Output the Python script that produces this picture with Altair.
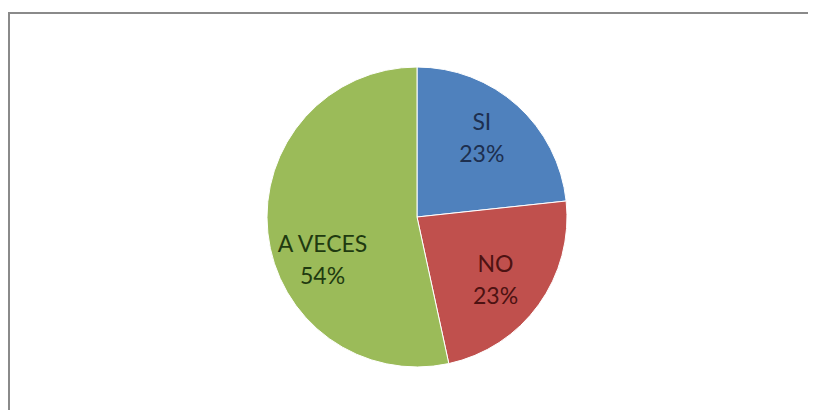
import altair as alt
import pandas as pd

categories = ["SI", "NO", "A VECES"]
values = [23.3, 23.3, 53.4]
pct_labels = ["23%", "23%", "54%"]
slice_colors = ["#4F81BD", "#C0504D", "#9BBB59"]
text_colors = ["#1d2f4f", "#4d1212", "#1f3a10"]

df = pd.DataFrame({
    "cat": categories,
    "val": values,
    "pct": pct_labels,
    "ord": list(range(len(categories))),
})

CX, CY = 409, 205  # pie centre in view coordinates
W, H = 800, 398

pie = alt.Chart(df).mark_arc(outerRadius=150, stroke="white", strokeWidth=1).encode(
    theta=alt.Theta("val:Q", stack=True),
    order=alt.Order("ord:O"),
    color=alt.Color("cat:N", scale=alt.Scale(domain=categories, range=slice_colors), legend=None),
    x=alt.value(CX),
    y=alt.value(CY),
)

text_common = dict(radius=103, font="Lato", fontSize=23, lineHeight=32,
                   align="center", baseline="middle")


def label_layer(cond, **offsets):
    return alt.Chart(df).transform_window(
        cum="sum(val)", sort=[alt.SortField("ord")]
    ).transform_joinaggregate(total="sum(val)").transform_calculate(
        lbl="[datum.cat, datum.pct]",
        mid="(datum.cum - datum.val / 2) / datum.total * 2 * PI",
    ).transform_filter(cond).mark_text(**text_common, **offsets).encode(
        theta=alt.Theta("mid:Q", scale=None),
        text="lbl:N",
        color=alt.Color("cat:N", scale=alt.Scale(domain=categories, range=text_colors), legend=None),
        x=alt.value(CX),
        y=alt.value(CY),
    )


labels_si = label_layer("datum.cat == 'SI'", dx=-4, dy=-17)
labels_no = label_layer("datum.cat == 'NO'", dx=-5, dy=-12)
labels_green = label_layer("datum.cat == 'A VECES'", dx=8, dy=17)

frame_top = alt.Chart(df).mark_rule(color="#8a8a8a", strokeWidth=2).encode(
    x=alt.value(0), x2=alt.value(W + 10), y=alt.value(1)
)
frame_left = alt.Chart(df).mark_rule(color="#8a8a8a", strokeWidth=2).encode(
    x=alt.value(1), y=alt.value(0), y2=alt.value(H + 10)
)

chart = alt.layer(pie, labels_si, labels_no, labels_green, frame_top, frame_left).resolve_scale(
    color="independent", theta="independent"
).properties(
    width=W,
    height=H,
    autosize=alt.AutoSizeParams(type="none"),
    padding={"left": 0, "top": 4, "right": 0, "bottom": 0},
    background="white",
).configure_view(strokeWidth=0)

chart.save("out.html", embed_options={"renderer": "svg", "actions": False})
